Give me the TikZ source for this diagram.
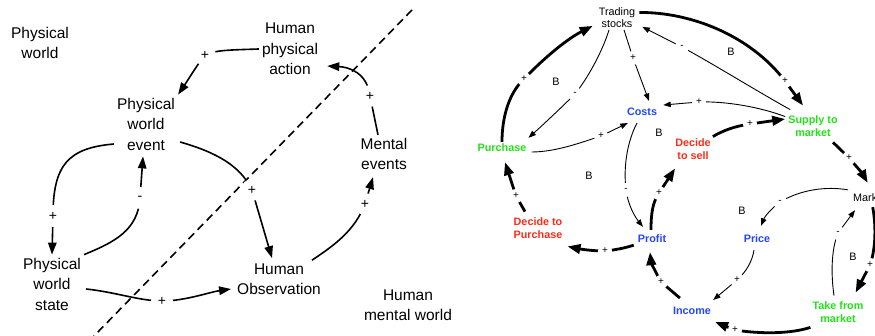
\documentclass[tikz,border=0pt]{standalone}
\usepackage{fontspec}
\setmainfont{Liberation Sans}
\usetikzlibrary{arrows.meta,calc}
\definecolor{cblue}{RGB}{35,70,250}
\definecolor{cgreen}{RGB}{35,225,25}
\definecolor{cred}{RGB}{250,45,25}
\tikzset{
  lt/.style={align=center, inner sep=3pt, font=\fontsize{15.5}{20.5}\selectfont},
  rt/.style={align=center, inner sep=2pt, font=\fontsize{10.8}{12.5}\selectfont},
  rb/.style={align=center, inner sep=2pt, font=\fontsize{10.8}{12.5}\selectfont\bfseries},
  lconn/.style={line width=1.6pt, -{Triangle[length=12pt,width=8.5pt]}},
  rthin/.style={line width=0.9pt, -{Triangle[length=7.5pt,width=5.5pt]}},
  rthick/.style={line width=2.8pt, -{Triangle[length=13pt,width=9.5pt]}},
  llbl/.style={circle, fill=white, inner sep=0pt, minimum size=22pt, font=\fontsize{14}{14}\selectfont},
  rlbl/.style={circle, fill=white, inner sep=0pt, minimum size=14pt, font=\fontsize{10}{10}\selectfont},
}
\begin{document}
\begin{tikzpicture}[x=1pt,y=-1pt]
\useasboundingbox (0,0) rectangle (875,336);
% ---------------- left diagram ----------------
\draw[line width=1.6pt, dash pattern=on 8pt off 5pt] (412,10) coordinate (d1) -- (94,336) coordinate (d2);
\node[lt] (pw)   at (40,43)   {Physical\\world};
\node[lt] (hpa)  at (290,49)  {Human\\physical\\action};
\node[lt] (pwe)  at (146,124) {Physical\\world\\event};
\node[lt] (me)   at (384,154) {Mental\\events};
\node[lt] (pws)  at (52,284)  {Physical\\world\\state};
\node[lt] (hobs) at (279,279) {Human\\Observation};
\node[lt] (hmw)  at (408,305) {Human\\mental world};

\draw[lconn] (hpa.west) .. controls (230,50) and (215,50) .. (205,55) node[llbl]{+}
   .. controls (199,62) and (188,80) .. (pwe.north east);
\draw[lconn] ($(pwe.west)+(0,20)$) .. controls (68,148) and (53,165) .. (53,216) node[llbl]{+} -- (pws.north);
\draw[lconn] (pws.north east) .. controls (115,242) and (138,230) .. (140,198) node[llbl]{-} -- ($(pwe.south)+(-3,3)$);
\draw[lconn] ($(pwe.east)+(2,18)$) .. controls (215,152) and (240,165) .. (252,190) node[llbl]{+} -- ($(hobs.north)+(-7,-2)$);
\draw[lconn] ($(hobs.north east)+(-12,0)$) .. controls (335,245) and (355,230) .. (365,204) node[llbl]{+} -- ($(me.south)+(-11,4)$);
\draw[lconn] ($(me.north)+(-6,0)$) -- (370,96) node[llbl]{+} .. controls (367,72) and (348,67) .. ($(hpa.south east)+(6,-12)$);
\draw[lconn] ($(pws.east)+(2,5)$) .. controls (115,292) and (140,301) .. (162,301) node[llbl]{+}
   .. controls (185,301) and (210,292) .. ($(hobs.west)+(-3,10)$);

% ---------------- right diagram ----------------
\node[rt] (ts) at (617,17.5) {Trading\\stocks};
\node[rb, text=cblue] (costs) at (642,112) {Costs};
\node[rb, text=cgreen] (pur) at (502,148) {Purchase};
\node[rb, text=cgreen] (sup) at (813,126) {Supply to\\market};
\node[rb, text=cred] (dsell) at (693,149) {Decide\\to sell};
\node[rb, text=cred] (dpur) at (538,228) {Decide to\\Purchase};
\node[rb, text=cblue] (profit) at (652,239) {Profit};
\node[rb, text=cblue] (price) at (757,239) {Price};
\node[rb, text=cblue] (income) at (692,311) {Income};
\node[rt, anchor=west] (market) at (851,198) {Market};
\node[rb, text=cgreen] (take) at (838,312) {Take from\\market};

\node[rt] (b1) at (556,82) {B};
\node[rt] (b2) at (731,52) {B};
\node[rt] (b3) at (659,133) {B};
\node[rt] (b4) at (589,176) {B};
\node[rt] (b5) at (742,211) {B};
\node[rt] (b6) at (853,257) {B};

\draw[rthick] (pur.north) .. controls (502,115) and (510,92) .. (524,79) node[rlbl]{+}
   .. controls (540,62) and (565,40) .. ($(ts.south west)+(-4,-4)$);
\draw[rthin] ($(ts.south)+(-8,0)$) .. controls (603,50) and (588,78) .. (575,94) node[rlbl]{-}
   .. controls (565,104) and (545,123) .. ($(pur.north east)+(0,-4)$);
\draw[rthin] ($(ts.south)+(7,0)$) -- (633,58) node[rlbl]{+} -- ($(costs.north)+(7,-5)$);
\draw[rthick] ($(ts.east)+(2,-5)$) .. controls (690,12) and (750,35) .. (785,81) node[rlbl]{+} -- ($(sup.north)+(-10,-8)$);
\draw[rthin] ($(sup.north west)+(4,-4)$) .. controls (760,93) and (715,65) .. (682,47) node[rlbl]{-} -- ($(ts.south east)+(5,-3)$);
\draw[rthin] ($(sup.north west)+(-1,3)$) .. controls (760,107) and (725,101) .. (699,102) node[rlbl]{+} -- ($(costs.east)+(4,-7)$);
\draw[rthin] ($(pur.east)+(3,4)$) .. controls (555,152) and (580,143) .. (601,136) node[rlbl]{+} -- ($(costs.south west)+(3,5)$);
\draw[rthick] (dsell.north east) .. controls (722,131) and (735,126) .. (750,124) node[rlbl]{+} -- ($(sup.west)+(-1,-7)$);
\draw[rthick] ($(sup.south)+(20,4)$) .. controls (838,147) and (843,152) .. (849,158) node[rlbl]{+}
   .. controls (856,166) and (862,173) .. ($(market.north)+(-2,-9)$);
\draw[rthin] ($(market.north west)+(-3,-2)$) .. controls (825,186) and (800,190) .. (780,202) node[rlbl]{-}
   .. controls (772,208) and (765,216) .. ($(price.north)+(4,-7)$);
\draw[rthin] ($(price.south)+(-3,5)$) .. controls (752,262) and (746,272) .. (737,280) node[rlbl]{+} -- ($(income.north east)+(0,-5)$);
\draw[rthick] ($(market.south)+(3,3)$) .. controls (876,225) and (876,248) .. (870,265) node[rlbl]{+} -- ($(take.north east)+(-10,-7)$);
\draw[rthin] ($(take.north)+(-4,-4)$) .. controls (831,275) and (831,250) .. (838,233) node[rlbl]{-} -- ($(market.south west)+(4,6)$);
\draw[rthick] ($(take.south west)+(0,3)$) .. controls (790,334) and (760,334) .. (735,330) node[rlbl]{+} -- ($(income.south east)+(2,5)$);
\draw[rthick] ($(income.north west)+(9,-7)$) -- (661,282) node[rlbl]{+} .. controls (656,273) and (651,262) .. ($(profit.south)+(-2,7)$);
\draw[rthin] ($(costs.south)+(-5,5)$) .. controls (628,140) and (623,165) .. (626,190) node[rlbl]{-}
   .. controls (628,205) and (635,217) .. ($(profit.north)+(-9,-6)$);
\draw[rthick] ($(profit.north)+(-1,-3)$) .. controls (651,212) and (653,202) .. (659,193) node[rlbl]{+} -- ($(dsell.south west)+(2,7)$);
\draw[rthick] ($(profit.south west)+(-2,0)$) .. controls (625,248) and (615,250) .. (605,251) node[rlbl]{+}
   .. controls (592,251) and (580,249) .. ($(dpur.south east)+(3,6)$);
\draw[rthick] ($(dpur.north)+(-13,-4)$) -- (516,196) node[rlbl]{+} -- ($(pur.south)+(3,8)$);
\end{tikzpicture}
\end{document}
